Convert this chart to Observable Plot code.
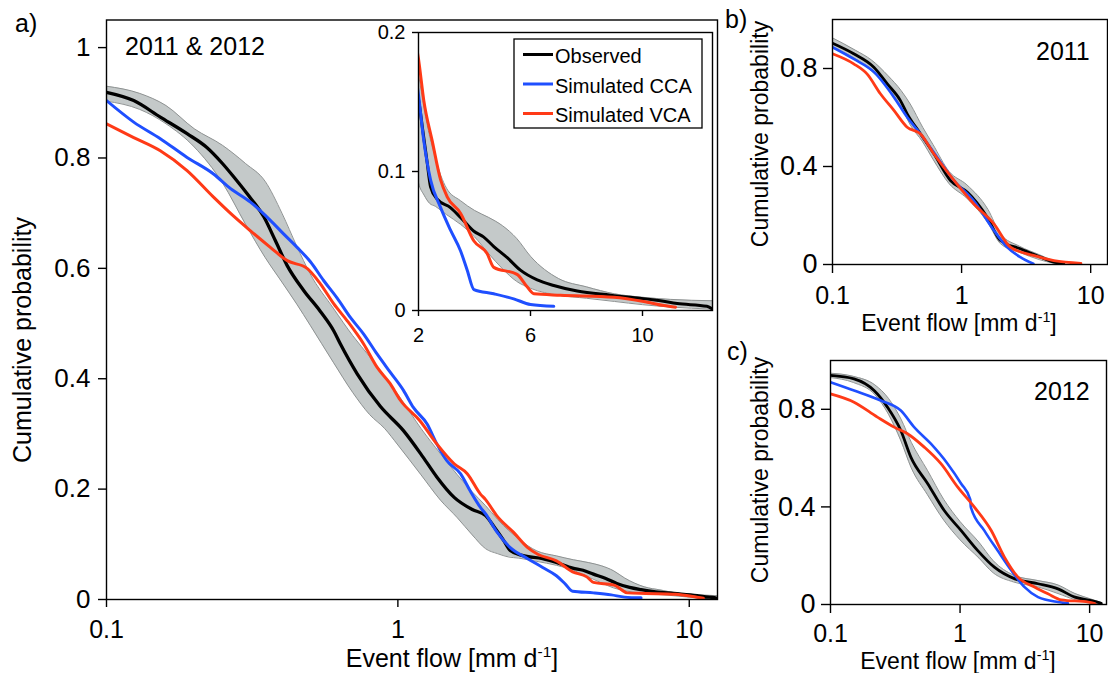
<!DOCTYPE html>
<html>
<head>
<meta charset="utf-8">
<script src="https://cdn.jsdelivr.net/npm/d3@7"></script>
<script src="https://cdn.jsdelivr.net/npm/@observablehq/plot@0.6"></script>
<style>
  body { margin: 0; background: #fff; }
  #fig { position: relative; width: 1108px; height: 673px; overflow: hidden; background: #fff; }
</style>
</head>
<body>
<div id="fig"></div>
<script>
// ---- Exceedance curves of event flow, 2011 & 2012 combined ----
const obsFlow = [0.1, 0.124, 0.153, 0.189, 0.221, 0.25, 0.274, 0.304, 0.347, 0.38, 0.417, 0.475, 0.542, 0.602, 0.635, 0.725, 0.87, 1.045, 1.22, 1.36, 1.56, 1.8, 2.0, 2.15, 2.3, 2.43, 2.67, 3.14, 3.5, 3.98, 4.32, 4.69, 5.17, 5.64, 6.24, 6.83, 7.67, 8.86, 10.64, 11.24, 12.3, 12.5];
const obsProb = [0.919, 0.904, 0.874, 0.844, 0.819, 0.79, 0.765, 0.735, 0.693, 0.65, 0.605, 0.56, 0.522, 0.487, 0.463, 0.409, 0.35, 0.306, 0.258, 0.222, 0.185, 0.163, 0.152, 0.13, 0.108, 0.089, 0.08, 0.074, 0.067, 0.057, 0.053, 0.046, 0.038, 0.029, 0.022, 0.018, 0.014, 0.011, 0.007, 0.005, 0.003, 0.001];
const ccaFlow = [0.1, 0.124, 0.153, 0.189, 0.233, 0.266, 0.312, 0.365, 0.406, 0.451, 0.501, 0.556, 0.619, 0.687, 0.763, 0.848, 0.941, 1.045, 1.13, 1.26, 1.36, 1.47, 1.64, 1.77, 1.92, 2.0, 2.19, 2.43, 2.79, 3.14, 3.5, 3.74, 3.98, 4.69, 5.4, 6.0, 6.83];
const ccaProb = [0.904, 0.865, 0.835, 0.801, 0.771, 0.745, 0.72, 0.687, 0.662, 0.638, 0.612, 0.578, 0.546, 0.511, 0.481, 0.445, 0.412, 0.379, 0.348, 0.318, 0.282, 0.252, 0.228, 0.197, 0.167, 0.155, 0.122, 0.094, 0.074, 0.058, 0.043, 0.029, 0.015, 0.012, 0.0084, 0.0043, 0.003];
const vcaFlow = [0.1, 0.124, 0.153, 0.189, 0.233, 0.266, 0.312, 0.365, 0.417, 0.488, 0.542, 0.602, 0.67, 0.763, 0.848, 0.941, 1.02, 1.19, 1.36, 1.56, 1.73, 1.92, 2.0, 2.19, 2.49, 2.79, 3.02, 3.5, 3.98, 4.45, 4.69, 5.52, 5.88, 6.12, 7.07, 8.98, 10.17, 10.76, 11.18];
const vcaProb = [0.862, 0.837, 0.813, 0.777, 0.729, 0.7, 0.668, 0.638, 0.614, 0.6, 0.572, 0.536, 0.505, 0.463, 0.421, 0.391, 0.361, 0.324, 0.282, 0.246, 0.228, 0.191, 0.181, 0.151, 0.122, 0.094, 0.082, 0.07, 0.05, 0.041, 0.031, 0.026, 0.017, 0.012, 0.011, 0.0096, 0.006, 0.0036, 0.0024];
// uncertainty band of the observed curve
const bandFlow = [0.1, 0.13, 0.16, 0.2, 0.25, 0.3, 0.35, 0.4, 0.45, 0.5, 0.6, 0.7, 0.8, 0.9, 1.0, 1.2, 1.4, 1.6, 1.8, 2.0, 2.2, 2.4, 2.6, 2.8, 3.0, 3.5, 4.0, 4.5, 5.0, 5.5, 6.0, 7.0, 8.0, 9.0, 10, 11, 12.5];
const bandHi = [0.93, 0.917, 0.895, 0.853, 0.823, 0.79, 0.758, 0.7, 0.64, 0.59, 0.528, 0.478, 0.44, 0.405, 0.372, 0.31, 0.264, 0.226, 0.195, 0.17, 0.145, 0.125, 0.11, 0.097, 0.088, 0.079, 0.072, 0.067, 0.061, 0.052, 0.039, 0.023, 0.017, 0.012, 0.0095, 0.008, 0.007];
const bandLo = [0.903, 0.888, 0.862, 0.82, 0.755, 0.68, 0.62, 0.575, 0.535, 0.497, 0.43, 0.375, 0.335, 0.31, 0.28, 0.226, 0.18, 0.148, 0.117, 0.092, 0.083, 0.077, 0.075, 0.072, 0.069, 0.062, 0.053, 0.041, 0.03, 0.021, 0.016, 0.011, 0.0088, 0.0065, 0.0042, 0.0025, 0.001];

// ---- 2011 ----
const obs11Flow = [0.1, 0.146, 0.209, 0.266, 0.336, 0.379, 0.481, 0.61, 0.82, 1.11, 1.58, 2.0, 2.85, 4.09, 5.19, 6.2];
const obs11Prob = [0.903, 0.86, 0.805, 0.737, 0.669, 0.615, 0.533, 0.452, 0.343, 0.295, 0.193, 0.098, 0.064, 0.03, 0.01, 0.003];
const cca11Flow = [0.1, 0.146, 0.209, 0.299, 0.379, 0.481, 0.647, 0.874, 1.24, 1.78, 2.25, 2.85, 3.6];
const cca11Prob = [0.887, 0.839, 0.786, 0.683, 0.601, 0.533, 0.438, 0.343, 0.261, 0.139, 0.071, 0.03, 0.003];
const vca11Flow = [0.1, 0.146, 0.185, 0.235, 0.299, 0.379, 0.481, 0.61, 0.874, 1.24, 1.78, 2.39, 3.6, 5.19, 8.4];
const vca11Prob = [0.86, 0.819, 0.778, 0.697, 0.629, 0.56, 0.533, 0.452, 0.343, 0.248, 0.166, 0.071, 0.037, 0.016, 0.005];
const band11Flow = [0.1, 0.15, 0.2, 0.27, 0.34, 0.4, 0.5, 0.6, 0.8, 1.1, 1.6, 2.0, 2.8, 4.0, 5.2, 6.2];
const band11Hi = [0.925, 0.875, 0.835, 0.77, 0.71, 0.655, 0.56, 0.49, 0.38, 0.325, 0.225, 0.125, 0.075, 0.04, 0.015, 0.005];
const band11Lo = [0.885, 0.84, 0.79, 0.72, 0.645, 0.57, 0.5, 0.43, 0.33, 0.27, 0.17, 0.085, 0.05, 0.02, 0.005, 0.0];

// ---- 2012 ----
const obs12Flow = [0.1, 0.152, 0.217, 0.275, 0.349, 0.417, 0.563, 0.755, 1.02, 1.37, 1.84, 2.65, 4.0, 5.7, 7.7, 10.3, 12.3];
const obs12Prob = [0.939, 0.925, 0.877, 0.809, 0.713, 0.604, 0.495, 0.385, 0.303, 0.221, 0.153, 0.105, 0.085, 0.064, 0.03, 0.016, 0.005];
const cca12Flow = [0.1, 0.152, 0.244, 0.349, 0.442, 0.595, 0.801, 1.02, 1.2, 1.21, 1.54, 1.95, 2.49, 3.15, 4.0, 5.7, 6.8];
const cca12Prob = [0.911, 0.877, 0.836, 0.795, 0.727, 0.659, 0.577, 0.495, 0.43, 0.4, 0.303, 0.221, 0.139, 0.071, 0.03, 0.01, 0.005];
const vca12Flow = [0.1, 0.152, 0.23, 0.31, 0.393, 0.529, 0.712, 0.96, 1.29, 1.74, 2.2, 2.8, 3.78, 4.77, 6.05, 9.8, 11.0];
const vca12Prob = [0.863, 0.829, 0.768, 0.727, 0.7, 0.645, 0.577, 0.481, 0.399, 0.303, 0.194, 0.112, 0.071, 0.044, 0.019, 0.01, 0.004];
const band12Flow = [0.1, 0.15, 0.22, 0.28, 0.35, 0.42, 0.56, 0.75, 1.0, 1.4, 1.8, 2.6, 4.0, 5.7, 7.7, 10.3, 12.3];
const band12Hi = [0.948, 0.935, 0.9, 0.845, 0.76, 0.665, 0.55, 0.43, 0.34, 0.255, 0.18, 0.12, 0.098, 0.08, 0.045, 0.022, 0.008];
const band12Lo = [0.93, 0.91, 0.86, 0.78, 0.67, 0.56, 0.45, 0.345, 0.265, 0.19, 0.13, 0.092, 0.072, 0.045, 0.02, 0.008, 0.0];

// ---- tick labels ----
const mainTicksX = [0.1, 1, 10];
const mainTicksY = [0, 0.2, 0.4, 0.6, 0.8, 1];
const insetTicksX = [2, 6, 10];
const insetTicksY = [0, 0.1, 0.2];
const sideTicksX = [0.1, 1, 10];
const sideTicksY = [0, 0.4, 0.8];

const seriesNames = ["Observed", "Simulated CCA", "Simulated VCA"];
const seriesColors = ["#000000", "#1f4fff", "#ff3a17"];

const FONT = "'Liberation Sans', Arial, Helvetica, sans-serif";
const BAND_FILL = "#c4c9c9";
const BAND_EDGE = "#8e9292";
const CURVE = "monotone-x";
const fig = document.getElementById("fig");

const rows = (xs, ys) => xs.map((x, i) => ({x, y: ys[i]}));

function cdfPanel(o) {
  const bandRows = o.band.flow.map((x, i) => ({x, lo: o.band.lo[i], hi: o.band.hi[i]}));
  const marks = [];
  if (o.white) marks.push(Plot.frame({fill: "white", stroke: null}));
  marks.push(
    Plot.areaY(bandRows, {x: "x", y1: "lo", y2: "hi", fill: BAND_FILL, curve: CURVE, clip: true}),
    Plot.line(bandRows, {x: "x", y: "lo", stroke: BAND_EDGE, strokeWidth: 1, curve: CURVE, clip: true}),
    Plot.line(bandRows, {x: "x", y: "hi", stroke: BAND_EDGE, strokeWidth: 1, curve: CURVE, clip: true})
  );
  o.series.forEach((s, i) => {
    marks.push(Plot.line(rows(s.flow, s.prob), {
      x: "x", y: "y", stroke: seriesColors[i], strokeWidth: o.lineWidths[i],
      curve: CURVE, strokeLinejoin: "round", clip: true
    }));
  });
  marks.push(
    Plot.frame({stroke: "black", strokeWidth: 1.4}),
    Plot.axisX({ticks: o.xTicks, tickSize: o.tickSize, tickPadding: o.padX, tickFormat: d => String(d),
      label: null, strokeWidth: 1.4, fontSize: o.xFont ?? o.tickFont, fontFamily: FONT}),
    Plot.axisY({ticks: o.yTicks, tickSize: o.tickSize, tickPadding: o.padY, tickFormat: d => String(d),
      label: null, strokeWidth: 1.4, fontSize: o.tickFont, fontFamily: FONT})
  );
  const svg = Plot.plot({
    width: o.width, height: o.height,
    marginLeft: o.m[0], marginTop: o.m[1], marginRight: o.m[2], marginBottom: o.m[3],
    x: {type: o.xType, domain: o.xDomain},
    y: {domain: o.yDomain},
    style: {fontFamily: FONT, fontSize: o.tickFont + "px", color: "black", background: "transparent", overflow: "visible"},
    marks
  });
  svg.style.position = "absolute";
  svg.style.left = o.left + "px";
  svg.style.top = o.top + "px";
  svg.style.maxWidth = "none";
  fig.appendChild(svg);
}

// a) combined years
cdfPanel({
  left: 0, top: 0, width: 730, height: 673, m: [106, 19.5, 13, 74],
  xType: "log", xDomain: [0.1, 12.5], yDomain: [0, 1.05],
  xTicks: mainTicksX, yTicks: mainTicksY, tickFont: 26, xFont: 25, tickSize: 8, padX: 13, padY: 8,
  band: {flow: bandFlow, lo: bandLo, hi: bandHi},
  series: [{flow: obsFlow, prob: obsProb}, {flow: ccaFlow, prob: ccaProb}, {flow: vcaFlow, prob: vcaProb}],
  lineWidths: [3.3, 3, 3]
});

// inset: tail of the combined curves on a linear axis
cdfPanel({
  left: 370, top: 0, width: 350, height: 350, m: [48, 32, 8, 40],
  xType: "linear", xDomain: [2, 12.5], yDomain: [0, 0.2], white: true,
  xTicks: insetTicksX, yTicks: insetTicksY, tickFont: 20, tickSize: 6, padX: 11, padY: 7,
  band: {flow: bandFlow, lo: bandLo, hi: bandHi},
  series: [{flow: obsFlow, prob: obsProb}, {flow: ccaFlow, prob: ccaProb}, {flow: vcaFlow, prob: vcaProb}],
  lineWidths: [3, 3, 3]
});

// b) 2011
cdfPanel({
  left: 740, top: 0, width: 368, height: 340, m: [92, 19, 1, 76],
  xType: "log", xDomain: [0.1, 13.5], yDomain: [0, 1],
  xTicks: sideTicksX, yTicks: sideTicksY, tickFont: 27, xFont: 25, tickSize: 9, padX: 13, padY: 6,
  band: {flow: band11Flow, lo: band11Lo, hi: band11Hi},
  series: [{flow: obs11Flow, prob: obs11Prob}, {flow: cca11Flow, prob: cca11Prob}, {flow: vca11Flow, prob: vca11Prob}],
  lineWidths: [2.8, 2.6, 2.8]
});

// c) 2012
cdfPanel({
  left: 740, top: 340, width: 368, height: 333, m: [90, 20, 2, 69],
  xType: "log", xDomain: [0.1, 13.5], yDomain: [0, 1],
  xTicks: sideTicksX, yTicks: sideTicksY, tickFont: 27, xFont: 25, tickSize: 9, padX: 11, padY: 6,
  band: {flow: band12Flow, lo: band12Lo, hi: band12Hi},
  series: [{flow: obs12Flow, prob: obs12Prob}, {flow: cca12Flow, prob: cca12Prob}, {flow: vca12Flow, prob: vca12Prob}],
  lineWidths: [2.8, 2.6, 2.8]
});

// ---- titles, panel letters and legend ----
const ov = d3.select(fig).append("svg")
  .attr("width", 1108).attr("height", 673)
  .style("position", "absolute").style("left", 0).style("top", 0)
  .attr("font-family", FONT).attr("fill", "black");

function label(x, y, s, size, anchor = "start") {
  return ov.append("text").attr("x", x).attr("y", y).attr("font-size", size)
    .attr("text-anchor", anchor).text(s);
}
function probTitle(x, y, size) {
  ov.append("text").attr("transform", `translate(${x},${y}) rotate(-90)`)
    .attr("font-size", size).attr("text-anchor", "middle").text("Cumulative probability");
}
function flowTitle(x, y, size) {
  const t = ov.append("text").attr("x", x).attr("y", y).attr("font-size", size).attr("text-anchor", "middle");
  t.append("tspan").text("Event flow [mm d");
  t.append("tspan").attr("dy", -0.4 * size).attr("font-size", size * 0.62).text("-1");
  t.append("tspan").attr("dy", 0.4 * size).text("]");
}

label(15, 32, "a)", 25);
label(725, 28, "b)", 25);
label(727, 360, "c)", 25);
label(125, 55, "2011 & 2012", 25);
label(1036, 60, "2011", 25);
label(1034, 400, "2012", 25);

probTitle(31, 340, 25);
probTitle(768, 134, 23);
probTitle(768, 470, 23);
flowTitle(452, 667, 25);
flowTitle(959, 331, 23);
flowTitle(958, 669, 23);

// legend inside the inset
const lg = ov.append("g");
lg.append("rect").attr("x", 514).attr("y", 39).attr("width", 188).attr("height", 89)
  .attr("fill", "white").attr("stroke", "black").attr("stroke-width", 1.3);
seriesNames.forEach((name, i) => {
  const yb = 63 + i * 29.5;
  lg.append("line").attr("x1", 523).attr("x2", 553).attr("y1", yb - 8.5).attr("y2", yb - 8.5)
    .attr("stroke", seriesColors[i]).attr("stroke-width", 3);
  lg.append("text").attr("x", 555).attr("y", yb).attr("font-size", 20).text(name);
});
</script>
</body>
</html>
